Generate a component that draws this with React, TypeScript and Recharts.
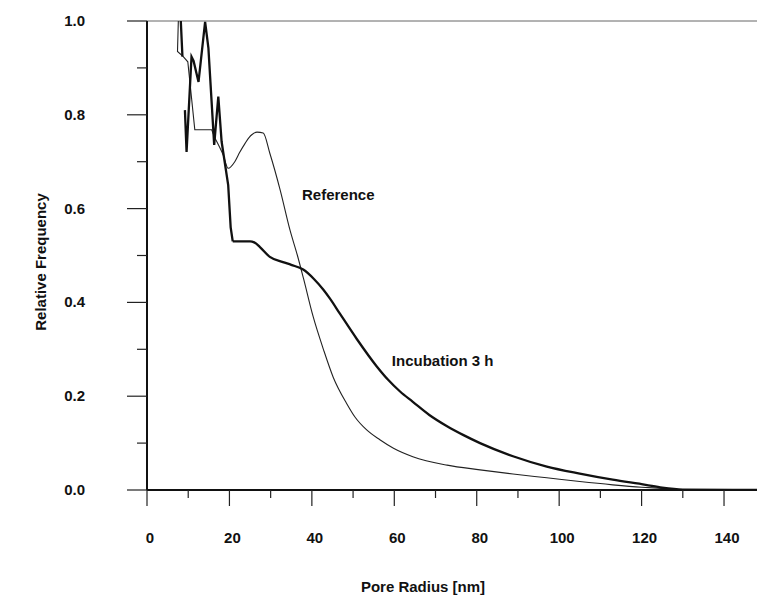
import React from 'react';
import {
  LineChart,
  Line,
  XAxis,
  YAxis,
  ReferenceLine,
  ReferenceDot,
  Label,
} from 'recharts';

// Pore radius (nm) / relative frequency
const refX = [7.6, 7.4, 8.8, 9.9, 11.6, 15.7, 16.5, 18.5, 19.7, 21.3, 22.5, 23.8, 24.8, 25.5, 26.7, 28.2, 29.8, 32.3, 34.7, 36.5, 38, 40.3, 42.8, 45.2, 48.4, 50.5, 53.3, 56.5, 59.8, 64.5, 72.8, 80.8, 88.8, 97, 105, 113, 120, 124, 130, 148];
const refY = [1.0, 0.935, 0.924, 0.913, 0.768, 0.768, 0.75, 0.714, 0.686, 0.7, 0.72, 0.739, 0.752, 0.758, 0.763, 0.761, 0.718, 0.64, 0.554, 0.5, 0.45, 0.37, 0.3, 0.24, 0.185, 0.155, 0.128, 0.107, 0.089, 0.071, 0.053, 0.043, 0.034, 0.026, 0.018, 0.011, 0.006, 0.004, 0.001, 0];

const incX = [8.2, 8.6, 8.8, 9.2, 9.6, 10.8, 11.3, 12.5, 14.1, 14.9, 16.3, 17.3, 18.1, 19.7, 20.3, 20.8, 25, 26, 27.4, 29.8, 33, 35, 37.9, 40.5, 42.8, 44.4, 46.8, 50.9, 55.7, 58.5, 61.4, 64.5, 68.5, 72.8, 76.8, 80.8, 88.8, 97, 105, 113, 121, 125, 130, 148];
const incY = [1.0, 0.924, null, 0.81, 0.721, 0.924, 0.915, 0.87, 0.998, 0.942, 0.736, 0.839, 0.743, 0.65, 0.56, 0.53, 0.53, 0.528, 0.518, 0.497, 0.486, 0.48, 0.47, 0.45, 0.427, 0.408, 0.376, 0.322, 0.264, 0.235, 0.21, 0.188, 0.16, 0.136, 0.117, 0.1, 0.072, 0.05, 0.035, 0.022, 0.011, 0.005, 0.001, 0];

const xTicks = [0, 10, 20, 30, 40, 50, 60, 70, 80, 90, 100, 110, 120, 130, 140];
const yTicks = [0, 0.1, 0.2, 0.3, 0.4, 0.5, 0.6, 0.7, 0.8, 0.9, 1.0];

const FONT = '"Liberation Sans", Arial, sans-serif';

// jagged start is drawn straight, the smooth tail with a monotone curve
const REF_SPLIT = 6; // index of x = 16.5
const INC_SPLIT = 15; // index of x = 20.8

const refData = refX.map((x, i) => ({ x, y: refY[i] }));
const incData = incX.map((x, i) => ({ x, y: incY[i] }));

const XTick = (props: any) => {
  const { x, y, payload } = props;
  const v = payload.value;
  const major = v % 20 === 0;
  return (
    <g>
      <line x1={x} x2={x} y1={y} y2={y + (major ? 16 : 8)} stroke="#222" strokeWidth={1.2} />
      {major && (
        <text x={x + 3} y={y + 53} textAnchor="middle" fontSize={15} fontWeight="bold" fontFamily={FONT} fill="#111">
          {v}
        </text>
      )}
    </g>
  );
};

const YTick = (props: any) => {
  const { x, y, payload } = props;
  const v = payload.value;
  const major = Math.round(v * 10) % 2 === 0;
  return (
    <g>
      <line x1={x - (major ? 20 : 10)} x2={x} y1={y} y2={y} stroke="#222" strokeWidth={1.2} />
      {major && (
        <text x={x - 62} y={y + 5} textAnchor="end" fontSize={15} fontWeight="bold" fontFamily={FONT} fill="#111">
          {v.toFixed(1)}
        </text>
      )}
    </g>
  );
};

const curveLabel = (text: string) => (p: any) => (
  <text x={p.viewBox.x} y={p.viewBox.y + 5} fontSize={15} fontWeight="bold" fontFamily={FONT} fill="#111">
    {text}
  </text>
);

export default function App() {
  return (
    <div style={{ position: 'absolute', left: 0, top: 0, width: 761, height: 595, background: '#fff' }}>
      <LineChart width={761} height={595} margin={{ top: 21, right: 4, bottom: 0, left: 0 }}>
        <XAxis
          type="number"
          dataKey="x"
          domain={[0, 148]}
          ticks={xTicks}
          allowDataOverflow
          height={105}
          tickSize={0}
          tickMargin={0}
          tickLine={false}
          axisLine={{ stroke: '#111', strokeWidth: 2 }}
          tick={<XTick />}
          interval={0}
        >
          <Label
            content={() => (
              <text x={423} y={592} textAnchor="middle" fontSize={15} fontWeight="bold" fontFamily={FONT} fill="#111">
                Pore Radius [nm]
              </text>
            )}
          />
        </XAxis>
        <YAxis
          type="number"
          dataKey="y"
          domain={[0, 1]}
          ticks={yTicks}
          allowDataOverflow
          width={147}
          tickSize={0}
          tickMargin={0}
          tickLine={false}
          axisLine={{ stroke: '#111', strokeWidth: 2 }}
          tick={<YTick />}
          interval={0}
        >
          <Label
            content={() => (
              <text
                x={42}
                y={262}
                transform="rotate(-90 42 262)"
                textAnchor="middle"
                dominantBaseline="middle"
                fontSize={15}
                fontWeight="bold"
                fontFamily={FONT}
                fill="#111"
              >
                Relative Frequency
              </text>
            )}
          />
        </YAxis>
        <ReferenceLine y={1} stroke="#666" strokeWidth={1} />
        <Line
          data={refData.slice(0, REF_SPLIT + 1)}
          dataKey="y"
          type="linear"
          stroke="#222"
          strokeWidth={1.1}
          dot={false}
          isAnimationActive={false}
        />
        <Line
          data={refData.slice(REF_SPLIT)}
          dataKey="y"
          type="monotone"
          stroke="#222"
          strokeWidth={1.1}
          dot={false}
          isAnimationActive={false}
        />
        <Line
          data={incData.slice(0, INC_SPLIT + 1)}
          dataKey="y"
          type="linear"
          stroke="#111"
          strokeWidth={2.3}
          dot={false}
          isAnimationActive={false}
        />
        <Line
          data={incData.slice(INC_SPLIT)}
          dataKey="y"
          type="monotone"
          stroke="#111"
          strokeWidth={2.3}
          dot={false}
          isAnimationActive={false}
        />
        <ReferenceDot x={37.6} y={0.629} r={0} fill="none" stroke="none" label={curveLabel('Reference')} />
        <ReferenceDot x={59.4} y={0.275} r={0} fill="none" stroke="none" label={curveLabel('Incubation 3 h')} />
      </LineChart>
    </div>
  );
}
